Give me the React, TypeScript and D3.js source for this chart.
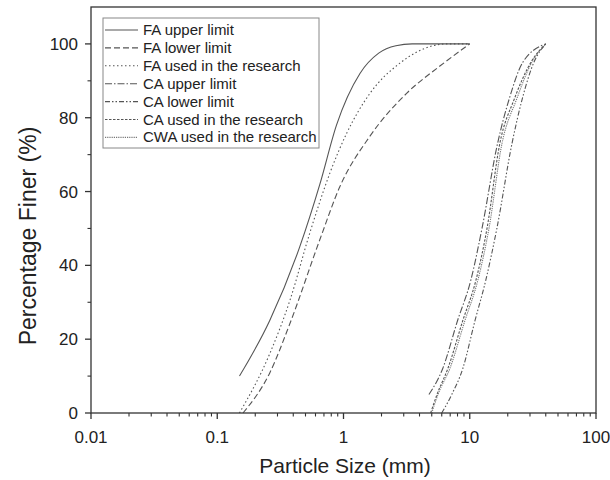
import React from "react";
import * as d3 from "d3";

type Pt = [number, number];

const faUpper: Pt[] = [[0.15, 10], [0.26, 25], [0.45, 45], [0.65, 62], [0.88, 78], [1.35, 92], [1.9, 97.5], [2.6, 99.5], [3.5, 100], [10, 100]];
const faLower: Pt[] = [[0.16, 0], [0.26, 10.8], [0.377, 24.3], [0.65, 47], [0.935, 61.3], [1.62, 75], [3.16, 86.6], [5.8, 94], [10, 100]];
const faUsed: Pt[] = [[0.15, 0], [0.26, 16], [0.377, 30.6], [0.54, 48.7], [0.78, 65], [1.06, 75.8], [1.62, 86.6], [2.8, 94.8], [5.1, 99.5], [6.5, 100], [10, 100]];
const caUpper: Pt[] = [[4.75, 5], [6.1, 12], [8.0, 25], [10.2, 36], [12.5, 50], [16.6, 73], [20.5, 85], [26.3, 95], [40, 100]];
const caLower: Pt[] = [[6.0, 0], [7.2, 5], [8.8, 12], [11.0, 25], [13.4, 36], [16.4, 50], [21.6, 73], [26.0, 85], [32.2, 95], [40, 100]];
const caUsed: Pt[] = [[4.9, 0], [5.5, 5], [6.7, 12], [8.8, 25], [11.2, 36], [13.7, 50], [17.3, 73], [22.5, 85], [30.5, 95], [40, 100]];
const cwaUsed: Pt[] = [[5.0, 0], [5.6, 5], [6.95, 12], [9.15, 25], [11.6, 36], [14.2, 50], [18.0, 73], [23.5, 85], [31.0, 95], [40, 100]];

const seriesNames = [
  "FA upper limit",
  "FA lower limit",
  "FA used in the research",
  "CA upper limit",
  "CA lower limit",
  "CA used in the research",
  "CWA used in the research",
];
const seriesData: Pt[][] = [faUpper, faLower, faUsed, caUpper, caLower, caUsed, cwaUsed];
const dashes = ["", "6,3", "1.5,2.5", "7,2,1.5,2", "5,2,1.5,2,1.5,2", "2.5,1.5", "1.2,1"];
const strokes = ["#555", "#555", "#555", "#555", "#555", "#555", "#777"];

const xTickValues = [0.01, 0.1, 1, 10, 100];
const xTickLabels = ["0.01", "0.1", "1", "10", "100"];
const yTickValues = [0, 20, 40, 60, 80, 100];

const W = 610, H = 480;
const L = 91, R = 596, T = 7, B = 413;
const FONT = "'Liberation Sans', Arial, sans-serif";

export default function App() {
  const x = d3.scaleLog().domain([0.01, 100]).range([L, R]);
  const y = d3.scaleLinear().domain([0, 110]).range([B, T]);
  const line = d3
    .line<Pt>()
    .x((d) => x(d[0]))
    .y((d) => y(d[1]))
    .curve(d3.curveMonotoneX);

  const minorX: number[] = [];
  for (let e = -2; e < 2; e++) for (let k = 2; k <= 9; k++) minorX.push(k * Math.pow(10, e));
  const minorY = [10, 30, 50, 70, 90];

  const legX = 103, legY = 18, legW = 216, legH = 130, rowH = 17.9;

  return (
    <svg width={W} height={H} style={{ position: "absolute", left: 0, top: 0, background: "#fff" }} fontFamily={FONT}>
      <rect x={0} y={0} width={W} height={H} fill="#fff" />
      {seriesData.map((s, i) => (
        <path key={i} d={line(s) || ""} fill="none" stroke={strokes[i]} strokeWidth={1.1} strokeDasharray={dashes[i] || undefined} />
      ))}
      <rect x={L} y={T} width={R - L} height={B - T} fill="none" stroke="#333" strokeWidth={1.3} />
      {xTickValues.map((v, i) => (
        <g key={"xt" + i}>
          <line x1={x(v)} x2={x(v)} y1={B} y2={B + 6} stroke="#333" strokeWidth={1.3} />
          <text x={x(v)} y={443} fontSize={17} textAnchor="middle" fill="#222">{xTickLabels[i]}</text>
        </g>
      ))}
      {minorX.map((v, i) => (
        <line key={"xm" + i} x1={x(v)} x2={x(v)} y1={B} y2={B + 3.5} stroke="#333" strokeWidth={1.1} />
      ))}
      {yTickValues.map((v, i) => (
        <g key={"yt" + i}>
          <line x1={L - 6} x2={L} y1={y(v)} y2={y(v)} stroke="#333" strokeWidth={1.3} />
          <text x={L - 13} y={y(v) + 6} fontSize={17} textAnchor="end" fill="#222">{v}</text>
        </g>
      ))}
      {minorY.map((v, i) => (
        <line key={"ym" + i} x1={L - 3.5} x2={L} y1={y(v)} y2={y(v)} stroke="#333" strokeWidth={1.1} />
      ))}
      <text x={345} y={473} fontSize={21} textAnchor="middle" fill="#222">Particle Size (mm)</text>
      <text transform={`translate(36,236) rotate(-90)`} fontSize={23} textAnchor="middle" fill="#222">Percentage Finer (%)</text>
      <rect x={legX} y={legY} width={legW} height={legH} fill="#fff" stroke="#888" strokeWidth={1} />
      {seriesNames.map((n, i) => {
        const cy = legY + 12 + i * rowH;
        return (
          <g key={"lg" + i}>
            <line x1={legX + 2} x2={legX + 35} y1={cy} y2={cy} stroke={strokes[i]} strokeWidth={1.1} strokeDasharray={dashes[i] || undefined} />
            <text x={legX + 40} y={cy + 5} fontSize={15} fill="#222">{n}</text>
          </g>
        );
      })}
    </svg>
  );
}
